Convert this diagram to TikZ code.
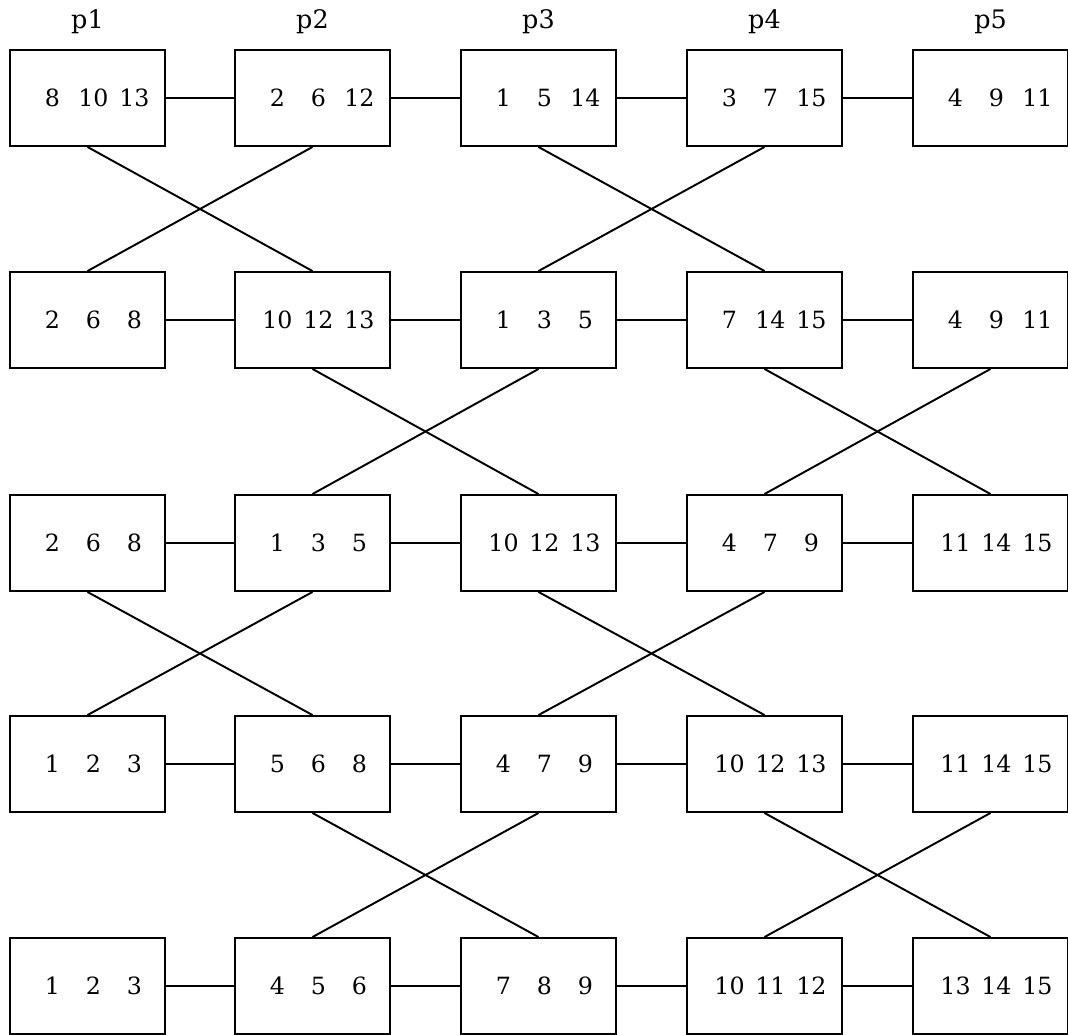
\documentclass[tikz,border=0pt]{standalone}
\usepackage{fontspec}
\setmainfont{DejaVu Serif}
\usetikzlibrary{positioning}
\newcommand{\trio}[3]{\hspace*{0.24cm}\makebox[0.82cm]{#1}\makebox[0.82cm]{#2}\makebox[0.82cm]{#3}}

\begin{document}
\begin{tikzpicture}[
  font=\fontsize{13.5}{15}\selectfont,
  proc/.style={draw, line width=1.1pt, minimum width=3.1cm, minimum height=1.92cm, inner sep=0pt},
  plabel/.style={inner sep=1pt, font=\fontsize{14.5}{16}\selectfont},
  link/.style={line width=1.1pt},
]
\useasboundingbox (0,0) rectangle (21.36,-20.7);

% ------------------------------------------------------------ stage 1
\node[proc] (r1p1) at (1.75,-1.96)  {\trio{8}{10}{13}};
\node[proc] (r1p2) at (6.25,-1.96)  {\trio{2}{6}{12}};
\node[proc] (r1p3) at (10.77,-1.96) {\trio{1}{5}{14}};
\node[proc] (r1p4) at (15.29,-1.96) {\trio{3}{7}{15}};
\node[proc] (r1p5) at (19.81,-1.96) {\trio{4}{9}{11}};

\node[plabel, above=0.26cm of r1p1] (p1) {p1};
\node[plabel, above=0.26cm of r1p2] (p2) {p2};
\node[plabel, above=0.26cm of r1p3] (p3) {p3};
\node[plabel, above=0.26cm of r1p4] (p4) {p4};
\node[plabel, above=0.26cm of r1p5] (p5) {p5};

% ------------------------------------------------------------ stage 2
\node[proc] (r2p1) at (1.75,-6.4)  {\trio{2}{6}{8}};
\node[proc] (r2p2) at (6.25,-6.4)  {\trio{10}{12}{13}};
\node[proc] (r2p3) at (10.77,-6.4) {\trio{1}{3}{5}};
\node[proc] (r2p4) at (15.29,-6.4) {\trio{7}{14}{15}};
\node[proc] (r2p5) at (19.81,-6.4) {\trio{4}{9}{11}};

% ------------------------------------------------------------ stage 3
\node[proc] (r3p1) at (1.75,-10.86)  {\trio{2}{6}{8}};
\node[proc] (r3p2) at (6.25,-10.86)  {\trio{1}{3}{5}};
\node[proc] (r3p3) at (10.77,-10.86) {\trio{10}{12}{13}};
\node[proc] (r3p4) at (15.29,-10.86) {\trio{4}{7}{9}};
\node[proc] (r3p5) at (19.81,-10.86) {\trio{11}{14}{15}};

% ------------------------------------------------------------ stage 4
\node[proc] (r4p1) at (1.75,-15.28)  {\trio{1}{2}{3}};
\node[proc] (r4p2) at (6.25,-15.28)  {\trio{5}{6}{8}};
\node[proc] (r4p3) at (10.77,-15.28) {\trio{4}{7}{9}};
\node[proc] (r4p4) at (15.29,-15.28) {\trio{10}{12}{13}};
\node[proc] (r4p5) at (19.81,-15.28) {\trio{11}{14}{15}};

% ------------------------------------------------------------ stage 5
\node[proc] (r5p1) at (1.75,-19.72)  {\trio{1}{2}{3}};
\node[proc] (r5p2) at (6.25,-19.72)  {\trio{4}{5}{6}};
\node[proc] (r5p3) at (10.77,-19.72) {\trio{7}{8}{9}};
\node[proc] (r5p4) at (15.29,-19.72) {\trio{10}{11}{12}};
\node[proc] (r5p5) at (19.81,-19.72) {\trio{13}{14}{15}};

% ------------------------------------------------------------ ring links
\draw[link] (r1p1.east) -- (r1p2.west);
\draw[link] (r1p2.east) -- (r1p3.west);
\draw[link] (r1p3.east) -- (r1p4.west);
\draw[link] (r1p4.east) -- (r1p5.west);
\draw[link] (r2p1.east) -- (r2p2.west);
\draw[link] (r2p2.east) -- (r2p3.west);
\draw[link] (r2p3.east) -- (r2p4.west);
\draw[link] (r2p4.east) -- (r2p5.west);
\draw[link] (r3p1.east) -- (r3p2.west);
\draw[link] (r3p2.east) -- (r3p3.west);
\draw[link] (r3p3.east) -- (r3p4.west);
\draw[link] (r3p4.east) -- (r3p5.west);
\draw[link] (r4p1.east) -- (r4p2.west);
\draw[link] (r4p2.east) -- (r4p3.west);
\draw[link] (r4p3.east) -- (r4p4.west);
\draw[link] (r4p4.east) -- (r4p5.west);
\draw[link] (r5p1.east) -- (r5p2.west);
\draw[link] (r5p2.east) -- (r5p3.west);
\draw[link] (r5p3.east) -- (r5p4.west);
\draw[link] (r5p4.east) -- (r5p5.west);

% ------------------------------------------------------------ exchanges
% odd steps swap p1/p2 and p3/p4, even steps swap p2/p3 and p4/p5
\draw[link] (r1p1.south) -- (r2p2.north);
\draw[link] (r1p2.south) -- (r2p1.north);
\draw[link] (r1p3.south) -- (r2p4.north);
\draw[link] (r1p4.south) -- (r2p3.north);

\draw[link] (r2p2.south) -- (r3p3.north);
\draw[link] (r2p3.south) -- (r3p2.north);
\draw[link] (r2p4.south) -- (r3p5.north);
\draw[link] (r2p5.south) -- (r3p4.north);

\draw[link] (r3p1.south) -- (r4p2.north);
\draw[link] (r3p2.south) -- (r4p1.north);
\draw[link] (r3p3.south) -- (r4p4.north);
\draw[link] (r3p4.south) -- (r4p3.north);

\draw[link] (r4p2.south) -- (r5p3.north);
\draw[link] (r4p3.south) -- (r5p2.north);
\draw[link] (r4p4.south) -- (r5p5.north);
\draw[link] (r4p5.south) -- (r5p4.north);
\end{tikzpicture}
\end{document}
